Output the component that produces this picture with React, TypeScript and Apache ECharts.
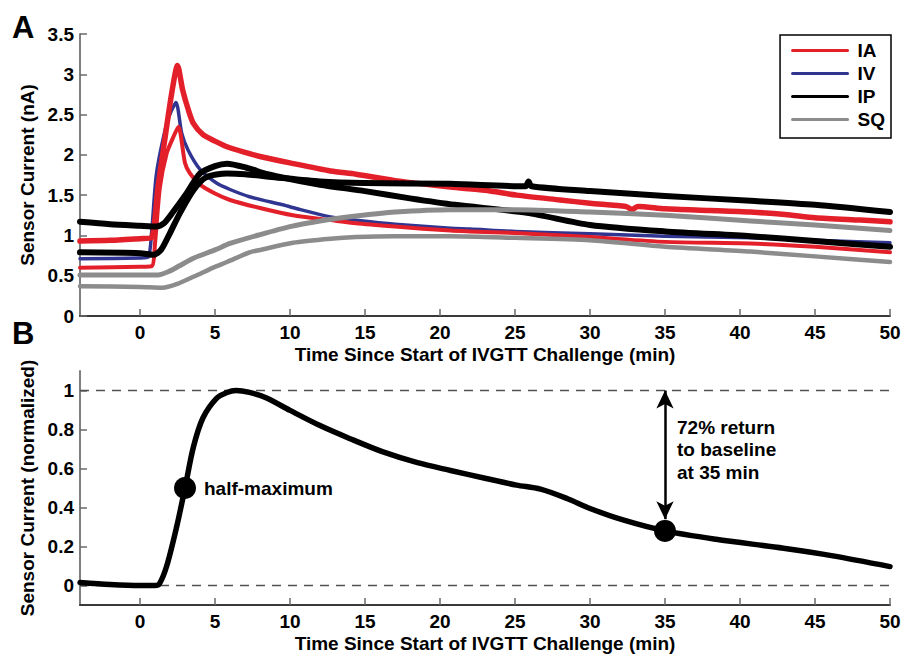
import React, { useEffect, useRef } from 'react';
import * as echarts from 'echarts';

type Pt = [number, number];

// ---------- Panel A data (Sensor Current, nA) ----------
const IA_UPPER: Pt[] = [
  [-4, 0.93], [-2, 0.94], [0, 0.96], [0.75, 0.97], [1.2, 1.6], [1.7, 2.25], [2.1, 2.75], [2.5, 3.11],
  [2.85, 2.8], [3.22, 2.56], [3.56, 2.39], [4.2, 2.25], [5, 2.17], [5.8, 2.1], [7, 2.03], [8, 1.98],
  [10, 1.9], [12.7, 1.8], [14.4, 1.76], [17, 1.68], [20.7, 1.6], [23, 1.56], [25.1, 1.5], [28, 1.44],
  [30, 1.4], [32.4, 1.36], [32.8, 1.32], [33.2, 1.36], [35, 1.33], [38, 1.31], [40.7, 1.29], [43, 1.26],
  [45, 1.22], [48, 1.19], [50, 1.17],
];
const IA_LOWER: Pt[] = [
  [-4, 0.6], [0, 0.61], [0.8, 0.62], [1.0, 0.9], [1.33, 1.6], [1.78, 2.02], [2.22, 2.22], [2.56, 2.35],
  [3.0, 1.9], [3.33, 1.77], [4, 1.63], [5, 1.52], [6, 1.44], [8, 1.34], [10.2, 1.25], [12.7, 1.19],
  [14.4, 1.15], [17, 1.11], [20.7, 1.06], [22, 1.05], [25, 1.03], [30, 0.98], [35, 0.92], [40.7, 0.9],
  [45, 0.86], [50, 0.79],
];
const IV_TRACE: Pt[] = [
  [-4, 0.71], [0, 0.72], [0.55, 0.73], [0.8, 1.1], [1.1, 1.77], [1.78, 2.39], [2.1, 2.55], [2.4, 2.65],
  [2.78, 2.27], [3.2, 2.06], [4, 1.82], [5.1, 1.65], [6, 1.57], [7.3, 1.48], [9.5, 1.38], [10.7, 1.32],
  [12.7, 1.23], [14.4, 1.19], [17, 1.14], [20.7, 1.09], [22, 1.08], [25, 1.05], [30, 1.02], [35, 0.99],
  [40.7, 0.97], [45, 0.94], [50, 0.91],
];
const IP_HIGH_BASE: Pt[] = [
  [-4, 1.17], [-2, 1.14], [0, 1.12], [1.1, 1.11], [1.6, 1.15], [2.2, 1.29], [3.1, 1.52], [4, 1.77],
  [5, 1.86], [5.8, 1.89], [7.1, 1.84], [8.5, 1.76], [10, 1.7], [12, 1.63], [15, 1.55], [18, 1.46],
  [21, 1.38], [25.8, 1.28], [30, 1.13], [35, 1.05], [40.7, 0.99], [45, 0.93], [50, 0.86],
];
const IP_LOW_BASE: Pt[] = [
  [-4, 0.79], [0, 0.78], [0.9, 0.76], [1.4, 0.82], [2.0, 1.03], [2.67, 1.28], [3.56, 1.56], [4.4, 1.72],
  [5.8, 1.77], [7, 1.76], [9.1, 1.72], [12, 1.67], [15, 1.65], [20.7, 1.64], [25.7, 1.61], [25.9, 1.67],
  [26.1, 1.61], [30, 1.55], [35, 1.49], [40.7, 1.43], [45, 1.38], [50, 1.29],
];
const SQ_UPPER: Pt[] = [
  [-4, 0.51], [0, 0.51], [1.2, 0.51], [2, 0.56], [2.6, 0.62], [3.6, 0.72], [5, 0.82], [6, 0.9],
  [8, 1.01], [10, 1.11], [12, 1.18], [14.4, 1.24], [17, 1.29], [20.7, 1.32], [25, 1.32], [30, 1.29],
  [35, 1.25], [40.7, 1.18], [45, 1.13], [50, 1.06],
];
const SQ_LOWER: Pt[] = [
  [-4, 0.37], [0, 0.36], [1.5, 0.35], [2.5, 0.4], [3.6, 0.49], [5, 0.61], [5.8, 0.67], [7.3, 0.79],
  [8, 0.82], [10.2, 0.91], [12.7, 0.96], [14.4, 0.98], [17, 0.99], [20.7, 0.99], [25, 0.97], [30, 0.94],
  [35, 0.86], [40.7, 0.8], [45, 0.74], [50, 0.67],
];

// ---------- Panel B data (normalized) ----------
const NORM_TRACE: Pt[] = [
  [-4, 0.015], [-2, 0.005], [0, 0.0], [1.0, 0.0], [1.3, 0.01], [1.78, 0.1], [2.44, 0.3], [3.0, 0.5],
  [3.56, 0.71], [4.2, 0.86], [5.1, 0.96], [5.8, 0.99], [6.4, 1.0], [7.3, 0.99], [8.4, 0.963], [10, 0.898],
  [12, 0.82], [14, 0.753], [16.2, 0.685], [18.5, 0.63], [20.7, 0.59], [23, 0.55], [25.1, 0.515],
  [26.7, 0.494], [28.5, 0.445], [30, 0.395], [32.2, 0.336], [35, 0.28], [38.4, 0.237], [42.9, 0.191],
  [46.2, 0.152], [50, 0.097],
];
const MARKERS: Pt[] = [[3, 0.5], [35, 0.28]];
const MARKER_LABELS = ['half-maximum', ''];
const ARROW_FROM: Pt = [35, 1.0];
const ARROW_TO: Pt = [35, 0.34];
const REF_LEVELS = [0, 1];
const ANNOTATION = '72% return\nto baseline\nat 35 min';

// ---------- Axes ----------
const X_TICKS = [0, 5, 10, 15, 20, 25, 30, 35, 40, 45, 50];
const Y_TICKS_B = [0, 0.2, 0.4, 0.6, 0.8, 1];
const LEGEND_NAMES = ['IA', 'IV', 'IP', 'SQ'];
const X_TITLE = 'Time Since Start of IVGTT Challenge (min)';

const FONT = '"Liberation Sans", Arial, Helvetica, sans-serif';
const FS = 19;
const RED = '#e3202a';
const BLUE = '#2f3590';
const BLACK = '#000000';
const GRAY = '#8c8c8c';

const labelStyle = { fontFamily: FONT, fontSize: FS, fontWeight: 'bold' as const, color: '#000' };

function xAxis(gridIndex: number) {
  return {
    type: 'value',
    gridIndex,
    min: -4,
    max: 50,
    name: X_TITLE,
    nameLocation: 'middle',
    nameGap: 29,
    nameTextStyle: { ...labelStyle },
    axisLine: { show: true, onZero: false, lineStyle: { color: '#3a3a3a', width: 2 } },
    axisTick: { show: true, inside: true, length: 7, customValues: X_TICKS, lineStyle: { color: '#6a6a6a', width: 1.5 } },
    axisLabel: { show: true, margin: 7, customValues: X_TICKS, ...labelStyle, formatter: (v: number) => String(v) },
    splitLine: { show: false },
  };
}

function yAxis(gridIndex: number, name: string, min: number, max: number, ticks: number[] | null) {
  const base: any = {
    type: 'value',
    gridIndex,
    min,
    max,
    name,
    nameLocation: 'middle',
    nameGap: 41,
    nameTextStyle: { ...labelStyle },
    axisLine: { show: true, onZero: false, lineStyle: { color: '#808080', width: 2 } },
    axisTick: { show: true, inside: true, length: 7, lineStyle: { color: '#6a6a6a', width: 1.5 } },
    axisLabel: { show: true, margin: 6, ...labelStyle, formatter: (v: number) => String(Math.round(v * 10) / 10) },
    splitLine: { show: false },
  };
  if (ticks) {
    base.axisTick.customValues = ticks;
    base.axisLabel.customValues = ticks;
  } else {
    base.interval = 0.5;
  }
  return base;
}

function lineSeries(name: string, data: Pt[], color: string, width: number) {
  return {
    type: 'line',
    name,
    data,
    xAxisIndex: 0,
    yAxisIndex: 0,
    symbol: 'none',
    smooth: 0.25,
    color,
    lineStyle: { color, width, cap: 'round', join: 'round' },
  };
}

export default function App() {
  const ref = useRef<HTMLDivElement>(null);

  useEffect(() => {
    if (!ref.current) return;
    const chart = echarts.init(ref.current, null, { renderer: 'svg' });

    const option: any = {
      animation: false,
      backgroundColor: '#ffffff',
      grid: [
        { left: 80, top: 34, width: 810, height: 282, containLabel: false, outerBoundsMode: 'none' },
        { left: 80, top: 371, width: 810, height: 234, containLabel: false, outerBoundsMode: 'none' },
      ],
      xAxis: [xAxis(0), xAxis(1)],
      yAxis: [
        yAxis(0, 'Sensor Current (nA)', 0, 3.5, null),
        yAxis(1, 'Sensor Current (normalized)', -0.1, 1.1, Y_TICKS_B),
      ],
      legend: {
        data: LEGEND_NAMES,
        orient: 'vertical',
        right: 11,
        top: 35,
        itemWidth: 55,
        itemHeight: 14,
        itemGap: 4,
        padding: [6, 6, 9, 11],
        borderColor: '#000',
        borderWidth: 1.5,
        backgroundColor: '#fff',
        textStyle: { ...labelStyle, padding: [0, 0, 0, 5] },
        lineStyle: { width: 3 },
        itemStyle: { opacity: 0, color: 'rgba(0,0,0,0)', borderWidth: 0 },
        selectedMode: false,
      },
      series: [
        lineSeries('IV', IV_TRACE, BLUE, 3.5),
        lineSeries('IA', IA_LOWER, RED, 4),
        lineSeries('IA', IA_UPPER, RED, 5.5),
        lineSeries('IP', IP_HIGH_BASE, BLACK, 6),
        lineSeries('IP', IP_LOW_BASE, BLACK, 6),
        lineSeries('SQ', SQ_LOWER, GRAY, 4.5),
        lineSeries('SQ', SQ_UPPER, GRAY, 5),
        {
          type: 'line',
          name: 'normalized',
          data: NORM_TRACE,
          xAxisIndex: 1,
          yAxisIndex: 1,
          symbol: 'none',
          smooth: 0.3,
          color: BLACK,
          lineStyle: { color: BLACK, width: 5.5, cap: 'round', join: 'round' },
          z: 3,
          markLine: {
            silent: true,
            symbol: ['none', 'none'],
            label: { show: false },
            z: 2,
            data: [
              ...REF_LEVELS.map((lv) => ({
                yAxis: lv,
                lineStyle: { color: '#505050', width: 1.3, type: [9, 7] },
              })),
              [
                { coord: ARROW_FROM, symbol: 'arrow', symbolSize: [13, 18], lineStyle: { color: '#000', width: 2.5, type: 'solid' } },
                { coord: ARROW_TO, symbol: 'arrow', symbolSize: [13, 18] },
              ],
            ],
          },
        },
        {
          type: 'scatter',
          name: 'markers',
          xAxisIndex: 1,
          yAxisIndex: 1,
          symbol: 'circle',
          symbolSize: 22,
          itemStyle: { color: '#000', opacity: 1 },
          z: 5,
          data: MARKERS.map((p, i) => ({
            value: p,
            label: {
              show: MARKER_LABELS[i] !== '',
              formatter: MARKER_LABELS[i],
              position: 'right',
              distance: 8,
              opacity: 1,
              ...labelStyle,
            },
          })),
        },
      ],
      graphic: [
        { type: 'text', left: 12, top: 12, style: { text: 'A', font: `bold 31px ${FONT}`, fill: '#000' } },
        { type: 'text', left: 12, top: 318, style: { text: 'B', font: `bold 31px ${FONT}`, fill: '#000' } },
        {
          type: 'text',
          left: 677,
          top: 416,
          style: { text: ANNOTATION, font: `bold ${FS}px ${FONT}`, fill: '#000', lineHeight: 22.5 },
        },
      ],
    };

    chart.setOption(option);
    return () => chart.dispose();
  }, []);

  return (
    <div
      ref={ref}
      style={{ position: 'absolute', left: 0, top: 0, width: 902, height: 656, background: '#fff' }}
    />
  );
}
